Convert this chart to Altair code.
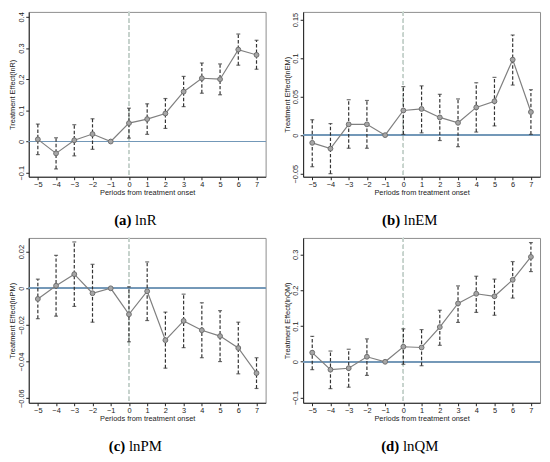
import altair as alt
import pandas as pd

periods = list(range(-5, 8))

# (a) lnR
lnR_est = [0.007, -0.038, 0.004, 0.024, 0.0, 0.059, 0.072, 0.090, 0.160, 0.203, 0.200, 0.295, 0.278]
lnR_lo = [-0.042, -0.088, -0.046, -0.025, None, 0.011, 0.023, 0.042, 0.112, 0.155, 0.150, 0.245, 0.232]
lnR_hi = [0.056, 0.012, 0.054, 0.073, None, 0.107, 0.121, 0.138, 0.209, 0.252, 0.249, 0.345, 0.325]

# (b) lnEM
lnEM_est = [-0.010, -0.0175, 0.014, 0.014, 0.0, 0.032, 0.034, 0.023, 0.016, 0.036, 0.044, 0.098, 0.030]
lnEM_lo = [-0.041, -0.050, -0.017, -0.017, None, 0.001, 0.003, -0.007, -0.015, 0.004, 0.012, 0.065, 0.001]
lnEM_hi = [0.020, 0.015, 0.046, 0.045, None, 0.063, 0.064, 0.053, 0.047, 0.068, 0.075, 0.130, 0.059]

# (c) lnPM
lnPM_est = [-0.0058, 0.0014, 0.0077, -0.0027, 0.0, -0.0142, -0.0016, -0.0283, -0.0178, -0.0229, -0.0261, -0.0326, -0.0463]
lnPM_lo = [-0.0166, -0.0152, -0.0099, -0.0185, None, -0.0292, -0.0176, -0.0436, -0.0324, -0.0379, -0.0400, -0.0467, -0.0547]
lnPM_hi = [0.0050, 0.0180, 0.0253, 0.0131, None, 0.0008, 0.0144, -0.0130, -0.0032, -0.0079, -0.0122, -0.0185, -0.0379]

# (d) lnQM
lnQM_est = [0.0256, -0.022, -0.018, 0.014, 0.0, 0.042, 0.040, 0.097, 0.163, 0.190, 0.183, 0.229, 0.293]
lnQM_lo = [-0.022, -0.075, -0.071, -0.038, None, -0.007, -0.011, 0.046, 0.110, 0.138, 0.130, 0.178, 0.252]
lnQM_hi = [0.071, 0.030, 0.035, 0.064, None, 0.092, 0.090, 0.144, 0.212, 0.239, 0.231, 0.280, 0.333]

x_title = "Periods from treatment onset"

W = 240
H = 167
SANS = "Liberation Sans"
SERIF = "Liberation Serif"
CAP_SIZE = 15


def text_w(s, size, bold=False):
    # rough Times widths (em) for caption centring
    widths = {"(": 0.333, ")": 0.333, "a": 0.5, "b": 0.556, "c": 0.444, "d": 0.556,
              "l": 0.278, "n": 0.5, "R": 0.667, "E": 0.611, "M": 0.889, "P": 0.556, "Q": 0.722}
    return sum(widths.get(ch, 0.5) for ch in s) * size


def panel(est, lo, hi, ytitle, ydom, yticks, tag, name):
    df = pd.DataFrame({"period": periods, "est": est, "lo": lo, "hi": hi})
    ci = df.dropna().copy()

    xscale = alt.Scale(domain=[-5.5, 7.5], nice=False, zero=False)
    yscale = alt.Scale(domain=ydom, nice=False, zero=False)
    xaxis = alt.Axis(values=periods, labelExpr="format(datum.value, 'd')", grid=False,
                     labelFlush=False, labelAngle=0)
    yaxis = alt.Axis(values=yticks, labelExpr="format(datum.value, '.2~f')", grid=False,
                     labelAngle=-90, labelAlign="center", labelBaseline="bottom")

    def xe(f):
        return alt.X(f + ":Q", scale=xscale, axis=xaxis, title=x_title)

    def ye(f):
        return alt.Y(f + ":Q", scale=yscale, axis=yaxis, title=ytitle)

    base = alt.Chart(df)
    vline = base.mark_rule(color="#c6d2cc", strokeWidth=1, strokeDash=[4, 3]).encode(
        x=alt.datum(0, scale=xscale, axis=xaxis, title=x_title))
    zero = base.mark_rule(color="#7398b8", strokeWidth=1.1).encode(
        y=alt.datum(0, scale=yscale, axis=yaxis, title=ytitle))
    bars = alt.Chart(ci).mark_rule(color="#333333", strokeWidth=1.2, strokeDash=[3.5, 2]).encode(
        x=xe("period"), y=ye("lo"), y2="hi:Q")
    cap_lo = alt.Chart(ci).mark_tick(orient="horizontal", color="#333333", size=4, thickness=1.2).encode(
        x=xe("period"), y=ye("lo"))
    cap_hi = alt.Chart(ci).mark_tick(orient="horizontal", color="#333333", size=4, thickness=1.2).encode(
        x=xe("period"), y=ye("hi"))
    line = base.mark_line(color="#7f7f7f", strokeWidth=1.2).encode(x=xe("period"), y=ye("est"))
    pts = base.mark_point(shape="circle", filled=True, size=24, color="#a6a6a6",
                          stroke="#6e6e6e", strokeWidth=1, opacity=1).encode(
        x=xe("period"), y=ye("est"))

    # caption "(a) lnR"
    space = 0.25 * CAP_SIZE
    w1 = text_w(tag, CAP_SIZE, True)
    w2 = text_w(name, CAP_SIZE)
    total = w1 + space + w2
    cx = W / 2 - 12
    left = cx - total / 2
    split = left + w1 + space / 2
    cap_df = pd.DataFrame({"tag": [tag], "name": [name]})
    c1 = alt.Chart(cap_df).mark_text(font=SERIF, fontSize=CAP_SIZE, fontWeight="bold",
                                     align="right", baseline="middle", color="black").encode(
        text="tag:N", x=alt.value(split - space / 2), y=alt.value(H + 44))
    c2 = alt.Chart(cap_df).mark_text(font=SERIF, fontSize=CAP_SIZE, fontWeight="normal",
                                     align="left", baseline="middle", color="black").encode(
        text="name:N", x=alt.value(split + space / 2), y=alt.value(H + 44))

    return alt.layer(vline, zero, bars, cap_lo, cap_hi, line, pts, c1, c2).properties(
        width=W, height=H)


pa = panel(lnR_est, lnR_lo, lnR_hi, "Treatment Effect(lnR)", [-0.113, 0.416],
           [-0.1, 0, 0.1, 0.2, 0.3, 0.4], "(a)", "lnR")
pb = panel(lnEM_est, lnEM_lo, lnEM_hi, "Treatment Effect(lnEM)", [-0.054, 0.160],
           [-0.05, 0, 0.05, 0.1, 0.15], "(b)", "lnEM")
pc = panel(lnPM_est, lnPM_lo, lnPM_hi, "Treatment Effect(lnPM)", [-0.0625, 0.0275],
           [-0.06, -0.04, -0.02, 0, 0.02], "(c)", "lnPM")
pd_ = panel(lnQM_est, lnQM_lo, lnQM_hi, "Treatment Effect(lnQM)", [-0.1145, 0.346],
            [-0.1, 0, 0.1, 0.2, 0.3], "(d)", "lnQM")

chart = alt.vconcat(
    alt.hconcat(pa, pb, spacing=15),
    alt.hconcat(pc, pd_, spacing=15),
    spacing=8,
).properties(padding=0, background="white").configure_view(
    stroke="#8c8c8c", strokeWidth=1
).configure_axis(
    domainColor="#222222", domainWidth=1, tickColor="#222222", tickSize=3, tickWidth=1,
    labelFont=SANS, labelFontSize=7.5, labelColor="#222222", labelPadding=0.5,
    titleFont=SANS, titleFontSize=7.5, titleFontWeight="normal", titleColor="#222222",
    titlePadding=0.5,
)

chart.save("out.html", embed_options={"renderer": "svg", "actions": False})
